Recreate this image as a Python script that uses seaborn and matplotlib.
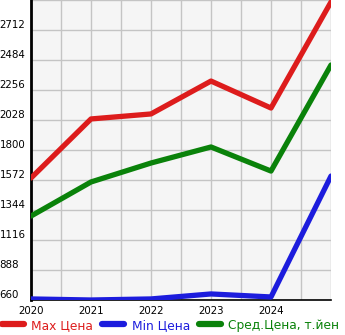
import matplotlib
matplotlib.use("Agg")
import matplotlib.pyplot as plt
import seaborn as sns
import pandas as pd
import numpy as np
from matplotlib.lines import Line2D

years = [2020, 2021, 2022, 2023, 2024, 2025]
max_price = [1587, 2036, 2074, 2324, 2119, 2925]
min_price = [668, 660, 668, 706, 683, 1602]
avg_price = [1298, 1557, 1701, 1823, 1640, 2446]
series_names = ["Max Цена", "Min Цена", "Сред.Цена, т.йен"]
colors = ["#dd1c1c", "#1c1cdd", "#0a820a"]
y_ticks = [660, 888, 1116, 1344, 1572, 1800, 2028, 2256, 2484, 2712]
x_labels = ["2020", "2021", "2022", "2023", "2024"]

df = pd.DataFrame({
    "year": years * 3,
    "value": max_price + min_price + avg_price,
    "series": [series_names[0]] * 6 + [series_names[1]] * 6 + [series_names[2]] * 6,
})

sns.set_style("white")
plt.rcParams["font.family"] = ["DejaVu Sans"]

fig = plt.figure(figsize=(3.45, 3.35), dpi=100)
ax = fig.add_axes([31 / 345, 35 / 335, 300 / 345, 300 / 335])
ax.set_facecolor("#f5f5f5")

sns.lineplot(data=df, x="year", y="value", hue="series", palette=colors,
             linewidth=3.8, ax=ax, legend=False, zorder=3)

ax.set_xlim(2020, 2025)
ax.set_ylim(660, 2940)

ax.set_xticks([2020, 2021, 2022, 2023, 2024])
ax.set_xticklabels(x_labels, fontsize=7.4)
ax.set_xticks([2020.5, 2021.5, 2022.5, 2023.5, 2024.5, 2025], minor=True)
ax.tick_params(axis="x", which="major", length=0, pad=4, labelcolor="black")
ax.tick_params(axis="x", which="minor", length=3, width=1, color="black", direction="out")

ax.set_yticks(y_ticks + [2940])
ax.set_yticklabels([str(v) for v in y_ticks] + [""], fontsize=7.4)
ax.tick_params(axis="y", which="major", length=3, width=1, color="black", pad=19.5,
               labelcolor="black")
for lab in ax.get_yticklabels():
    lab.set_ha("left")
    lab.set_va("bottom")

ax.grid(True, which="both", color="#c4c4c4", linewidth=1)
ax.set_axisbelow(True)
ax.set_xlabel("")
ax.set_ylabel("")

for side in ["top", "right"]:
    ax.spines[side].set_visible(False)
ax.spines["left"].set_color("black")
ax.spines["left"].set_linewidth(2)
ax.spines["bottom"].set_color("black")
ax.spines["bottom"].set_linewidth(1.2)

handles = [Line2D([0], [0], color=c, linewidth=4.5, solid_capstyle="round") for c in colors]
leg = fig.legend(handles, series_names, loc="lower left", bbox_to_anchor=(-0.012, -0.008),
                 ncol=3, frameon=False, fontsize=8.8, handlelength=1.8,
                 handletextpad=0.6, columnspacing=0.75, borderaxespad=0.1)
for t, c in zip(leg.get_texts(), colors):
    t.set_color(c)

fig.savefig("out.png", dpi=100)
